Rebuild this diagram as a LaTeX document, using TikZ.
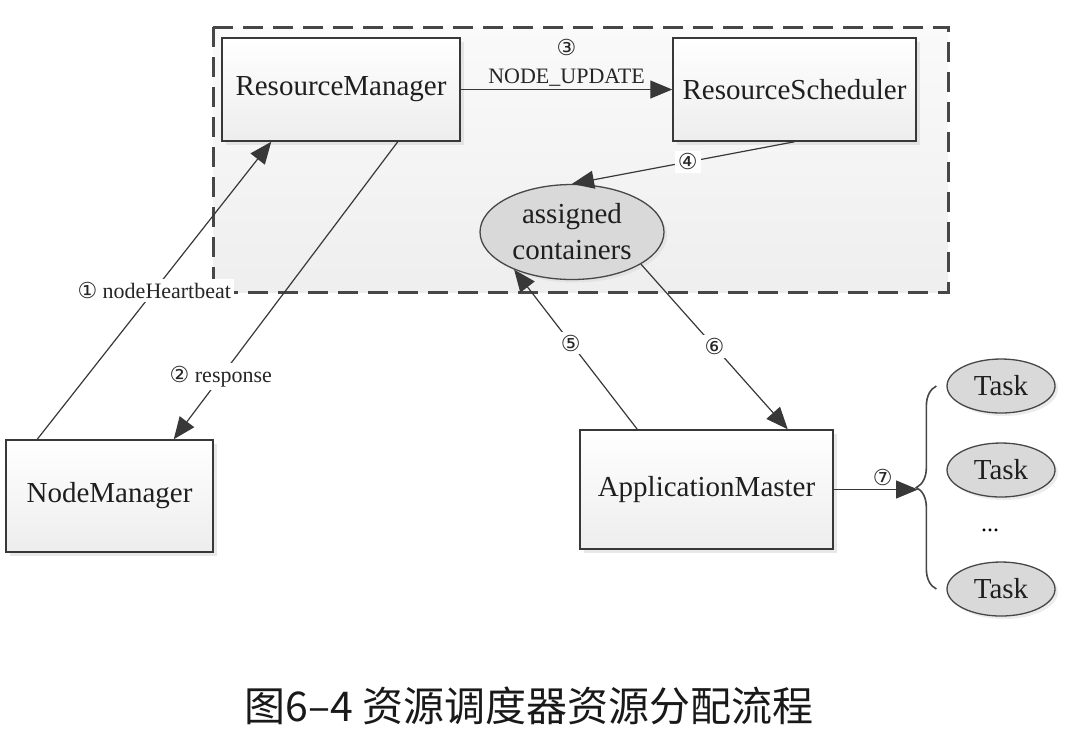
\documentclass[tikz,border=0pt]{standalone}
\usepackage{fontspec}
\setmainfont{Liberation Serif}
\newfontfamily\cjk{Noto Sans CJK SC}
\newfontfamily\circnum{DejaVu Sans}
\usetikzlibrary{arrows.meta,shapes.geometric,shadows,decorations.pathreplacing,positioning}

\begin{document}
\begin{tikzpicture}[x=0.5pt, y=-0.5pt,
    box/.style={draw=black!78, line width=0.75pt, top color=white, bottom color=gray!14,
        drop shadow={shadow xshift=2pt, shadow yshift=-2pt, fill=gray!35},
        font=\fontsize{14.5}{18}\selectfont, text=black!88, inner sep=0pt},
    oval/.style={ellipse, draw=black!72, line width=0.65pt, fill=gray!30,
        drop shadow={shadow xshift=1.5pt, shadow yshift=-1.5pt, fill=gray!30},
        font=\fontsize{14.5}{18}\selectfont, text=black!88, inner sep=0pt, align=center},
    flow/.style={-{Triangle[length=11pt, width=9pt]}, draw=black!78, line width=0.6pt},
    lbl/.style={font=\fontsize{11}{14}\selectfont, fill=white, inner sep=1.5pt, text=black!85}]
    \useasboundingbox (0,0) rectangle (1068,746);

    % Scheduler region
    \draw[dash pattern=on 10pt off 5pt, line width=1.5pt, draw=black!72, top color=gray!4, bottom color=gray!13]
         (213,27) rectangle (948,292);

    % Boxes
    \node[box, minimum width=119pt, minimum height=51.5pt] (rm) at (341,89.5) {ResourceManager};
    \node[box, minimum width=121.5pt, minimum height=51.5pt] (rs) at (794.5,89.5) {ResourceScheduler};
    \node[box, minimum width=103.5pt, minimum height=56pt] (nm) at (109.5,496) {NodeManager};
    \node[box, minimum width=126.5pt, minimum height=59.5pt] (am) at (706.5,489.5) {ApplicationMaster};
    \node[oval, minimum width=92pt, minimum height=47.5pt] (ac) at (572,232) {assigned\\containers};

    % Tasks
    \node[oval, minimum width=54pt, minimum height=27pt] (t1) at (1001,386) {Task};
    \node[oval, minimum width=54pt, minimum height=27pt] (t2) at (1001,470) {Task};
    \node[font=\fontsize{12}{14}\selectfont] (dots) at (990,530) {...};
    \node[oval, minimum width=54pt, minimum height=27pt] (t3) at (1001,589) {Task};
    \draw[decorate, decoration={brace, amplitude=10pt}, draw=black!72, line width=0.8pt]
         ([xshift=-5pt]t3.west) -- ([xshift=-5pt]t1.west);
    \coordinate (bt) at (918,489.5);

    % Flows
    \draw[flow] ([xshift=16pt]nm.north west) -- node[lbl, pos=0.5] {{\circnum ①} nodeHeartbeat} ([xshift=25pt]rm.south west);
    \draw[flow] ([xshift=-31.5pt]rm.south east) -- node[lbl, pos=0.79] {{\circnum ②} response} ([xshift=-20pt]nm.north east);
    \draw[flow] (rm.east) -- node[lbl, above, fill=none, align=center] {{\circnum ③}\\NODE\_UPDATE} (rs.west);
    \draw[flow] (rs.south) -- node[lbl, pos=0.48] {\circnum ④} (ac.north);
    \draw[flow] ([xshift=29pt]am.north west) -- node[lbl, pos=0.54] {\circnum ⑤} (ac.213);
    \draw[flow] (ac.-25) -- node[lbl, pos=0.5] {\circnum ⑥} ([xshift=-23pt]am.north east);
    \draw[flow] (am.east) -- node[lbl, above, fill=none, pos=0.58] {\circnum ⑦} (bt);

    % Caption
    \node[font=\cjk\fontsize{20.5}{24}\selectfont, text=black!90] (cap) at (529,706) {图6–4 资源调度器资源分配流程};
\end{tikzpicture}
\end{document}
